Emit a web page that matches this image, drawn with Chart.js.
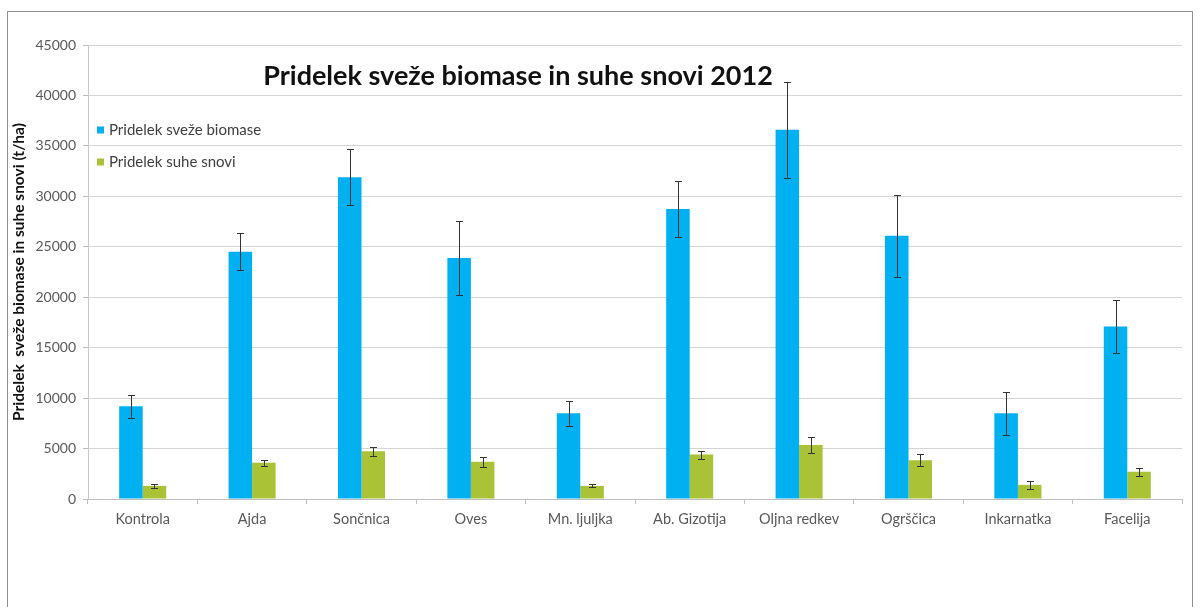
<!DOCTYPE html>
<html>
<head>
<meta charset="utf-8">
<script src="https://cdn.jsdelivr.net/npm/chart.js@4.4.1/dist/chart.umd.min.js"></script>
<style>
  html, body { margin: 0; padding: 0; background: #ffffff; }
  canvas { display: block; }
</style>
</head>
<body>
<canvas id="c" width="1200" height="607"></canvas>
<script>
const chartTitle = 'Pridelek sveže biomase in suhe snovi 2012';
const yAxisTitle = 'Pridelek  sveže biomase in suhe snovi (t/ha)';
const categories = ['Kontrola', 'Ajda', 'Sončnica', 'Oves', 'Mn. ljuljka', 'Ab. Gizotija', 'Oljna redkev', 'Ogrščica', 'Inkarnatka', 'Facelija'];
const seriesNames = ['Pridelek sveže biomase', 'Pridelek suhe snovi'];
const freshBiomass    = [9200, 24500, 31900, 23900, 8500, 28750, 36600, 26100, 8500, 17100];
const freshBiomassErr = [1150, 1850, 2750, 3650, 1250, 2800, 4750, 4050, 2150, 2650];
const dryMatter       = [1300, 3600, 4730, 3700, 1300, 4400, 5350, 3850, 1400, 2700];
const dryMatterErr    = [200, 300, 430, 500, 150, 400, 750, 620, 380, 420];
const yMin = 0, yMax = 45000, yStep = 5000;

const FONT = 'Lato, "Open Sans", "DejaVu Sans", sans-serif';

const framePlugin = {
  id: 'frame',
  beforeDraw(chart) {
    const ctx = chart.ctx;
    ctx.save();
    ctx.fillStyle = '#ffffff';
    ctx.fillRect(0, 0, chart.width, chart.height);
    ctx.strokeStyle = '#8f8f8f';
    ctx.lineWidth = 1;
    ctx.strokeRect(7.5, 11.5, 1185, 640);
    ctx.restore();
  }
};

const errorBarPlugin = {
  id: 'errorBars',
  afterDatasetsDraw(chart) {
    const ctx = chart.ctx;
    const y = chart.scales.y;
    ctx.save();
    ctx.strokeStyle = '#333333';
    ctx.lineWidth = 1;
    chart.data.datasets.forEach((ds, i) => {
      const meta = chart.getDatasetMeta(i);
      meta.data.forEach((bar, j) => {
        const v = ds.data[j], e = ds.errors[j];
        const top = Math.round(y.getPixelForValue(v + e)) + 0.5;
        const bot = Math.round(y.getPixelForValue(v - e)) + 0.5;
        const x = Math.round(bar.x) + 0.5;
        const cap = 3.5;
        ctx.beginPath();
        ctx.moveTo(x, top); ctx.lineTo(x, bot);
        ctx.moveTo(x - cap, top); ctx.lineTo(x + cap, top);
        ctx.moveTo(x - cap, bot); ctx.lineTo(x + cap, bot);
        ctx.stroke();
      });
    });
    ctx.restore();
  }
};

const titleLegendPlugin = {
  id: 'titleLegend',
  afterDraw(chart) {
    const ctx = chart.ctx;
    ctx.save();
    // title
    ctx.fillStyle = '#111111';
    ctx.font = 'bold 27px ' + FONT;
    ctx.textAlign = 'center';
    ctx.textBaseline = 'alphabetic';
    ctx.fillText(chartTitle, 518, 85);
    // legend
    ctx.font = '15px ' + FONT;
    ctx.textAlign = 'left';
    ctx.textBaseline = 'middle';
    chart.data.datasets.forEach((ds, i) => {
      const cy = 130 + i * 32;
      ctx.fillStyle = ds.backgroundColor;
      ctx.fillRect(97, cy - 3.5, 7, 7);
      ctx.fillStyle = '#404040';
      ctx.fillText(ds.label, 109, cy);
    });
    ctx.restore();
  }
};

new Chart(document.getElementById('c'), {
  type: 'bar',
  data: {
    labels: categories,
    datasets: [
      { label: seriesNames[0], data: freshBiomass, errors: freshBiomassErr, backgroundColor: '#00B0F0', borderWidth: 0 },
      { label: seriesNames[1], data: dryMatter, errors: dryMatterErr, backgroundColor: '#A9C236', borderWidth: 0 }
    ]
  },
  options: {
    responsive: false,
    animation: false,
    devicePixelRatio: 1,
    layout: { padding: { left: 0, right: 18, top: 45, bottom: 0 } },
    datasets: { bar: { barPercentage: 1.0, categoryPercentage: 0.43 } },
    plugins: {
      legend: { display: false },
      title: { display: false },
      tooltip: { enabled: false }
    },
    scales: {
      x: {
        grid: { display: true, drawOnChartArea: false, drawTicks: true, tickLength: 5, color: '#bfbfbf', offset: true },
        border: { display: true, color: '#bfbfbf' },
        ticks: { color: '#595959', font: { family: FONT, size: 14.5 }, padding: 7, maxRotation: 0, autoSkip: false },
        afterFit(scale) { scale.height = 108; }
      },
      y: {
        min: yMin, max: yMax,
        grid: { color: '#d4d4d4', tickLength: 5, tickColor: '#bfbfbf' },
        border: { display: true, color: '#c8c8c8' },
        ticks: { stepSize: yStep, color: '#595959', font: { family: FONT, size: 14 }, padding: 7,
                 callback: (v) => String(v) },
        title: { display: true, text: yAxisTitle, color: '#111111',
                 font: { family: FONT, size: 15.5, weight: 'bold' }, padding: { top: 10, bottom: 0 } },
        afterFit(scale) { scale.width = 88; }
      }
    }
  },
  plugins: [framePlugin, errorBarPlugin, titleLegendPlugin]
});
</script>
</body>
</html>
